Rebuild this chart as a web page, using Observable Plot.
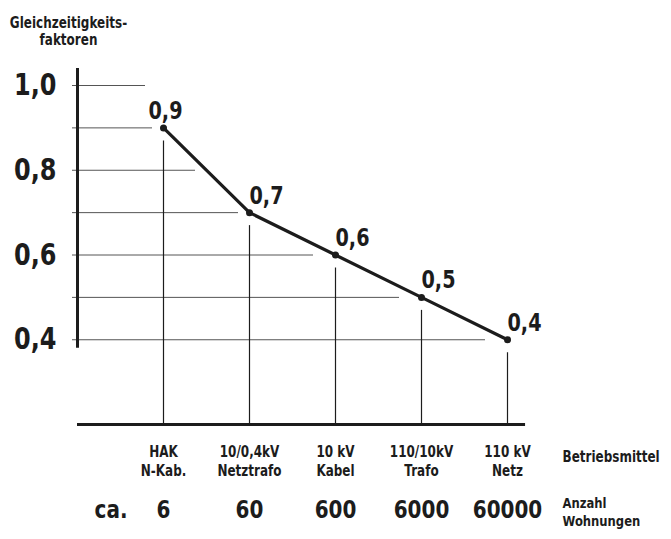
<!DOCTYPE html>
<html><head><meta charset="utf-8">
<script src="https://cdn.jsdelivr.net/npm/d3@7"></script>
<script src="https://cdn.jsdelivr.net/npm/@observablehq/plot@0.6"></script>
<style>
html,body{margin:0;padding:0;background:#fff;}
#chart svg{display:block;}
g[aria-label="spaced"] text{letter-spacing:2.7px;}
</style></head><body><div id="chart"></div>
<script>
// ---- data ----
const categories = ["HAK\nN-Kab.", "10/0,4kV\nNetztrafo", "10 kV\nKabel", "110/10kV\nTrafo", "110 kV\nNetz"];
const households = [6, 60, 600, 6000, 60000];
const factors = [0.9, 0.7, 0.6, 0.5, 0.4];
const yTicks = [0.4, 0.6, 0.8, 1.0];
const gridLevels = [0.4, 0.5, 0.6, 0.7, 0.8, 0.9, 1.0];
const titleText = "Gleichzeitigkeits-\nfaktoren";
const rowLabel1 = "Betriebsmittel";
const rowLabel2 = "Anzahl\nWohnungen";
const prefix = "ca.";

// ---- helpers ----
const ink = "#1c1c1c";
const FONT = '"DejaVu Sans","Liberation Sans",sans-serif';
const SQUEEZE = 0.8; // horizontal condensing of the lettering
const data = factors.map((v, i) => ({i, v, cat: categories[i], n: households[i]}));
const fmt = d => d.toFixed(1).replace(".", ",");
function crossX(level) {
  if (level >= factors[0]) return 0;
  for (let i = 0; i < factors.length - 1; i++) {
    const a = factors[i], b = factors[i + 1];
    if (level <= a + 1e-9 && level >= b - 1e-9) return i + (a - level) / (a - b);
  }
  return factors.length - 1;
}
const PX = 86; // px per category step
const grid = gridLevels.map(g => {
  const gap = g > factors[0] + 1e-9 ? 18 : g >= 0.7 - 1e-9 ? 11 : 22;
  return {g, x2: crossX(g) - gap / PX};
});

const chart = Plot.plot({
  width: 671, height: 539,
  marginLeft: 77, marginRight: 164, marginTop: 85, marginBottom: 115,
  x: {domain: [-1, 4], axis: null},
  y: {domain: [0.2, 1.0]},
  style: {fontFamily: FONT, color: ink, background: "#fff", overflow: "visible"},
  marks: [
    Plot.ruleY(grid, {y: "g", x1: -1, x2: "x2", insetLeft: -5, stroke: "#555", strokeWidth: 1}),
    Plot.ruleX(data, {x: "i", y1: "v", y2: 0.2, insetTop: 13, stroke: ink, strokeWidth: 1.2}),
    Plot.ruleX([-1], {y1: 0.38, y2: 1.04, stroke: ink, strokeWidth: 3}),
    Plot.ruleY([0.2], {x1: -1, x2: 4.21, stroke: ink, strokeWidth: 3}),
    Plot.line(data, {x: "i", y: "v", stroke: ink, strokeWidth: 3.2}),
    Plot.dot(data, {x: "i", y: "v", r: 3.5, fill: ink}),
    Plot.axisY({ticks: yTicks, tickSize: 0, tickPadding: 21, tickFormat: fmt, fontSize: 30, fontWeight: "bold", label: null}),
    Plot.text(data.filter(d => d.i === 0), {x: "i", y: "v", text: d => fmt(d.v), textAnchor: "middle", lineAnchor: "bottom", dx: 2, dy: -9, fontSize: 24, fontWeight: "bold"}),
    Plot.text(data.filter(d => d.i > 0), {x: "i", y: "v", text: d => fmt(d.v), textAnchor: "start", lineAnchor: "bottom", dx: 0, dy: -9, fontSize: 24, fontWeight: "bold"}),
    Plot.text(data, {x: "i", y: 0.2, text: "cat", lineAnchor: "top", dy: 19, fontSize: 15, lineHeight: 1.27, fontWeight: "bold", ariaLabel: "spaced"}),
    Plot.text(data, {x: "i", y: 0.2, text: d => String(d.n), lineAnchor: "top", dy: 76, fontSize: 25, fontWeight: "bold"}),
    Plot.text([prefix], {x: 0, y: 0.2, text: d => d, textAnchor: "end", lineAnchor: "top", dx: -36, dy: 76, fontSize: 25, fontWeight: "bold"}),
    Plot.text([rowLabel1], {x: 4, y: 0.2, text: d => d, textAnchor: "start", lineAnchor: "middle", dx: 55, dy: 33, fontSize: 15, fontWeight: "bold", ariaLabel: "spaced"}),
    Plot.text([rowLabel2], {x: 4, y: 0.2, text: d => d, textAnchor: "start", lineAnchor: "top", dx: 55, dy: 71, fontSize: 14.5, lineHeight: 1.25, fontWeight: "bold", ariaLabel: "spaced"}),
    Plot.text([titleText], {frameAnchor: "top-left", text: d => d, textAnchor: "middle", lineAnchor: "top", dx: -9, dy: -70, fontSize: 15, lineHeight: 1.15, fontWeight: "bold", ariaLabel: "spaced"})
  ]
});
// condense the lettering horizontally around each text's anchor point
d3.select(chart).selectAll("text").each(function() {
  const t = this.getAttribute("transform");
  if (t) this.setAttribute("transform", t + ` scale(${SQUEEZE},1)`);
  else {
    const x = +this.getAttribute("x") || 0, y = +this.getAttribute("y") || 0;
    this.setAttribute("transform", `translate(${x * (1 - SQUEEZE)},0) scale(${SQUEEZE},1)`);
  }
});
document.getElementById("chart").appendChild(chart);
</script></body></html>
